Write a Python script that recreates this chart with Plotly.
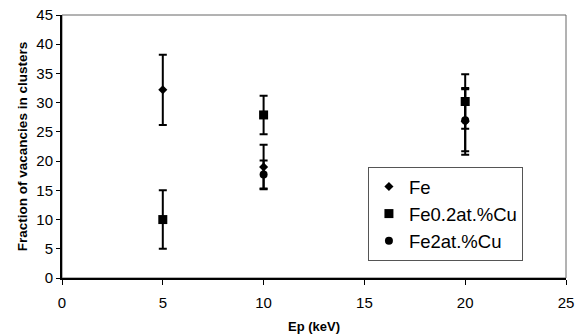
import plotly.graph_objects as go

# Data
fe_x = [5, 10, 20]
fe_y = [32.2, 19.0, 26.8]
fe_err = [6.0, 3.8, 5.7]

fe02_x = [5, 10, 20]
fe02_y = [10.0, 27.9, 30.2]
fe02_err = [5.0, 3.3, 4.65]

fe2_x = [10, 20]
fe2_y = [17.7, 27.0]
fe2_err = [2.4, 5.3]

x_ticks = [0, 5, 10, 15, 20, 25]
y_ticks = [0, 5, 10, 15, 20, 25, 30, 35, 40, 45]

FONT = "Arial, Liberation Sans, sans-serif"

fig = go.Figure()

def add_series(name, xs, ys, errs, symbol, size, group):
    fig.add_trace(go.Scatter(
        x=xs, y=ys, mode="markers", name=name, legendgroup=group,
        marker=dict(symbol=symbol, size=size, color="black"),
        error_y=dict(type="data", array=errs, visible=True, color="black",
                     thickness=2, width=4),
    ))

add_series("Fe", fe_x, fe_y, fe_err, "diamond", 7, "g1")
add_series("Fe0.2at.%Cu", fe02_x, fe02_y, fe02_err, "square", 9, "g2")
add_series("Fe2at.%Cu", fe2_x, fe2_y, fe2_err, "circle", 8, "g3")

# thin gray frame (top/right borders)
fig.add_shape(type="rect", xref="paper", yref="paper", x0=0, y0=0, x1=1, y1=1,
              line=dict(color="#666666", width=1), layer="below")

fig.update_layout(
    width=584, height=336,
    margin=dict(l=62, r=18, t=15, b=58),
    paper_bgcolor="white", plot_bgcolor="white",
    font=dict(family=FONT, color="black", size=15),
    showlegend=True,
    legend=dict(x=0.607, y=0.422, xanchor="left", yanchor="top",
                bordercolor="#555555", borderwidth=1, bgcolor="white",
                font=dict(family=FONT, size=18.5, color="black"),
                tracegroupgap=0, itemwidth=30),
    xaxis=dict(range=[0, 25], tickvals=x_ticks, showgrid=False, zeroline=False,
               showline=True, linecolor="black", linewidth=2, automargin=False,
               ticks="outside", ticklen=5, tickwidth=1, tickcolor="black",
               tickfont=dict(size=15), ticklabelstandoff=5,
               title=dict(text="<b>Ep (keV)</b>", font=dict(size=13), standoff=12)),
    yaxis=dict(range=[0, 45], tickvals=y_ticks, showgrid=False, zeroline=False,
               showline=True, linecolor="black", linewidth=2, automargin=False,
               ticks="outside", ticklen=4, tickwidth=1, tickcolor="black",
               tickfont=dict(size=15),
               title=dict(text="<b>Fraction of vacancies in clusters</b>",
                          font=dict(size=13.5), standoff=6)),
)

fig.write_html("out.html")
